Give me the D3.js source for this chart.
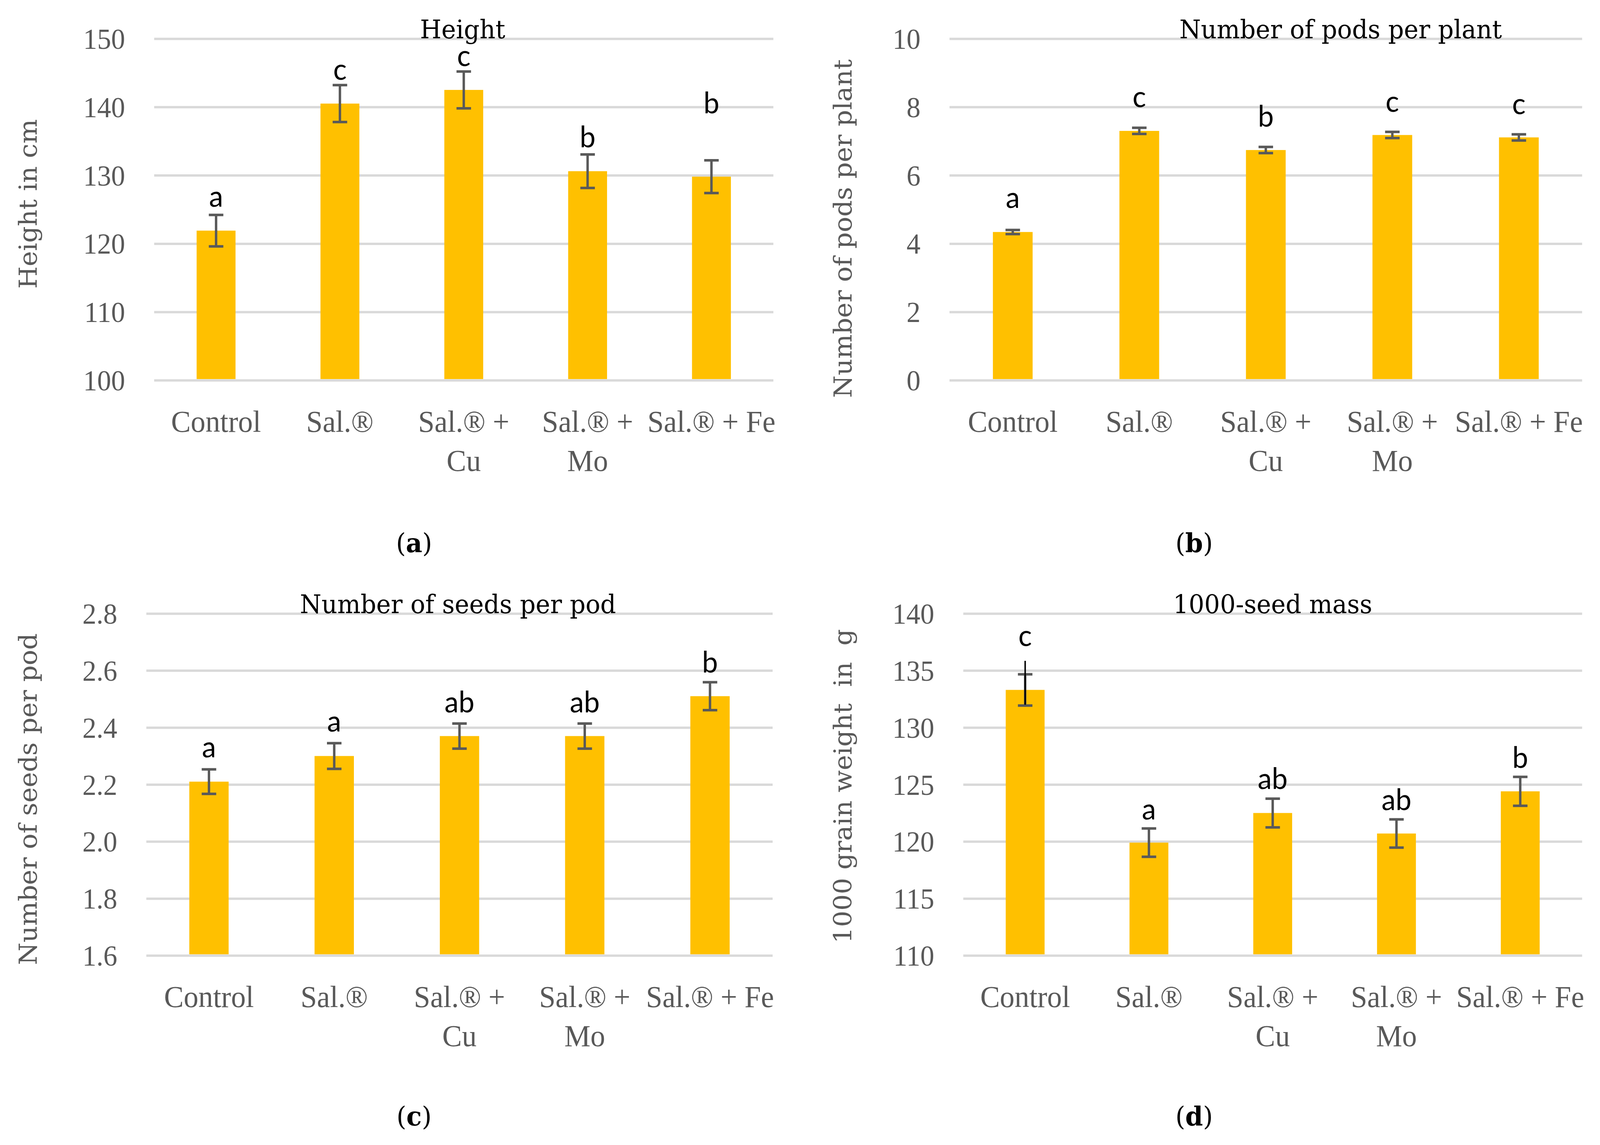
<!DOCTYPE html>
<html>

<head>
    <meta charset="utf-8">
    <script src="https://d3js.org/d3.v7.min.js"></script>
    <style>
        html, body { margin: 0; padding: 0; background: #fff; overflow: hidden; }
        svg { display: block; width: 100vw; height: 100vh; }
        text { white-space: pre; }
    </style>
</head>

<body>
    <script>
        // treatments (x axis), shared by all four panels
        const categories = ["Control", "Sal.®", "Sal.® + Cu", "Sal.® + Mo", "Sal.® + Fe"];
        const categoryLines = [["Control"], ["Sal.®"], ["Sal.® +", "Cu"], ["Sal.® +", "Mo"], ["Sal.® + Fe"]];

        // (a) height
        const heightMean = [121.9, 140.5, 142.5, 130.6, 129.8];
        const heightErr = [2.3, 2.7, 2.7, 2.45, 2.4];
        const heightLetters = ["a", "c", "c", "b", "b"];
        const heightLetterAt = [125.4, 144.0, 146.0, 134.1, 139.1];
        const heightTicks = [100, 110, 120, 130, 140, 150];

        // (b) pods per plant
        const podsMean = [4.34, 7.30, 6.74, 7.18, 7.11];
        const podsErr = [0.06, 0.09, 0.09, 0.09, 0.09];
        const podsLetters = ["a", "c", "b", "c", "c"];
        const podsLetterAt = [5.04, 8.0, 7.42, 7.86, 7.79];
        const podsTicks = [0, 2, 4, 6, 8, 10];

        // (c) seeds per pod
        const seedsMean = [2.21, 2.30, 2.37, 2.37, 2.51];
        const seedsErr = [0.043, 0.045, 0.044, 0.044, 0.049];
        const seedsLetters = ["a", "a", "ab", "ab", "b"];
        const seedsLetterAt = [2.295, 2.386, 2.453, 2.453, 2.593];
        const seedsTicks = [1.6, 1.8, 2.0, 2.2, 2.4, 2.6, 2.8];

        // (d) 1000-seed mass
        const massMean = [133.3, 119.9, 122.5, 120.7, 124.4];
        const massErr = [1.37, 1.24, 1.26, 1.24, 1.27];
        const massLetters = ["c", "a", "ab", "ab", "b"];
        const massLetterAt = [137.15, 121.94, 124.6, 122.75, 126.47];
        const massTicks = [110, 115, 120, 125, 130, 135, 140];
        // stray black whisker drawn over the Control error bar
        const massStrayHi = [135.85, null, null, null, null];
        const massStrayLo = [132.0, null, null, null, null];

        const width = 4297, height = 2930;
        const serif = "'DejaVu Serif', serif";
        const narrowSerif = "'Liberation Serif', 'Times New Roman', serif";
        const grey = "#595959";

        const panels = [
            { title: "Height", tag: "a", yLabel: "Height in cm",
              mean: heightMean, err: heightErr, letters: heightLetters, letterAt: heightLetterAt,
              ticks: heightTicks, fmt: d3.format("d"),
              x0: 414, x1: 2077, top: 99, bottom: 973, titleShift: -3,
              labelX: 99, labelY: 522, tagX: 1112, tagY: 1413 },
            { title: "Number of pods per plant", tag: "b", yLabel: "Number of pods per plant",
              mean: podsMean, err: podsErr, letters: podsLetters, letterAt: podsLetterAt,
              ticks: podsTicks, fmt: d3.format("d"),
              x0: 2550, x1: 4249, top: 99, bottom: 973, titleShift: 201,
              labelX: 2287, labelY: 585, tagX: 3207, tagY: 1413 },
            { title: "Number of seeds per pod", tag: "c", yLabel: "Number of seeds per pod",
              mean: seedsMean, err: seedsErr, letters: seedsLetters, letterAt: seedsLetterAt,
              ticks: seedsTicks, fmt: d3.format(".1f"),
              x0: 393, x1: 2075, top: 1570, bottom: 2445, titleShift: -4,
              labelX: 99, labelY: 2045, tagX: 1112, tagY: 2880 },
            { title: "1000-seed mass", tag: "d", yLabel: "1000 grain weight  in  g",
              mean: massMean, err: massErr, letters: massLetters, letterAt: massLetterAt,
              ticks: massTicks, fmt: d3.format("d"),
              strayHi: massStrayHi, strayLo: massStrayLo,
              x0: 2587, x1: 4249, top: 1570, bottom: 2445, titleShift: 0,
              labelX: 2287, labelY: 2012, tagX: 3207, tagY: 2880 }
        ];

        // the drawing is laid out on a 4297x2930 grid and stretched to the window
        const svg = d3.select("body").append("svg")
            .attr("viewBox", [0, 0, width, height])
            .attr("preserveAspectRatio", "none");

        panels.forEach(p => {
            const w = p.x1 - p.x0;

            const x = d3.scaleBand()
                .domain(categories)
                .range([p.x0, p.x1])
                .paddingInner(0.686)
                .paddingOuter(0.343);

            const y = d3.scaleLinear()
                .domain(d3.extent(p.ticks))
                .range([p.bottom, p.top]);

            // gridlines + tick labels
            const yAxis = svg.append("g")
                .attr("transform", `translate(${p.x0},0)`)
                .call(d3.axisLeft(y).tickValues(p.ticks).tickFormat(p.fmt)
                    .tickSize(-w).tickPadding(78));
            yAxis.select(".domain").remove();
            yAxis.selectAll(".tick line")
                .attr("stroke", "#d9d9d9")
                .attr("stroke-width", 6);
            yAxis.selectAll(".tick text")
                .attr("fill", grey)
                .attr("font-family", narrowSerif)
                .attr("font-size", 75)
                .attr("dy", "0.34em");

            const rows = categories.map((c, i) => ({
                cat: c, mean: p.mean[i], err: p.err[i],
                letter: p.letters[i], letterAt: p.letterAt[i],
                hi: p.strayHi ? p.strayHi[i] : null,
                lo: p.strayLo ? p.strayLo[i] : null
            }));

            // bars
            svg.append("g").selectAll("rect")
                .data(rows)
                .join("rect")
                .attr("x", d => x(d.cat))
                .attr("width", x.bandwidth())
                .attr("y", d => y(d.mean))
                .attr("height", d => y(y.domain()[0]) - y(d.mean) - 3)
                .attr("fill", "#ffc000");

            // error bars
            const cap = 39;
            const eb = svg.append("g")
                .attr("stroke", grey)
                .attr("stroke-width", 6.5)
                .selectAll("g")
                .data(rows)
                .join("g")
                .attr("transform", d => `translate(${x(d.cat) + x.bandwidth() / 2},0)`);
            eb.append("line")
                .attr("y1", d => y(d.mean + d.err))
                .attr("y2", d => y(d.mean - d.err));
            eb.append("line")
                .attr("x1", -cap / 2).attr("x2", cap / 2)
                .attr("y1", d => y(d.mean + d.err)).attr("y2", d => y(d.mean + d.err));
            eb.append("line")
                .attr("x1", -cap / 2).attr("x2", cap / 2)
                .attr("y1", d => y(d.mean - d.err)).attr("y2", d => y(d.mean - d.err));

            svg.append("g").selectAll("line")
                .data(rows.filter(d => d.hi != null))
                .join("line")
                .attr("x1", d => x(d.cat) + x.bandwidth() / 2)
                .attr("x2", d => x(d.cat) + x.bandwidth() / 2)
                .attr("y1", d => y(d.hi))
                .attr("y2", d => y(d.lo))
                .attr("stroke", "#000")
                .attr("stroke-width", 4);

            // significance letters
            svg.append("g").selectAll("text")
                .data(rows)
                .join("text")
                .attr("x", d => x(d.cat) + x.bandwidth() / 2)
                .attr("y", d => y(d.letterAt))
                .attr("text-anchor", "middle")
                .attr("font-family", "Lato, 'Open Sans', sans-serif")
                .attr("font-size", 76)
                .attr("fill", "#000")
                .text(d => d.letter);

            // category labels
            const xl = svg.append("g").selectAll("text")
                .data(categories)
                .join("text")
                .attr("x", d => x(d) + x.bandwidth() / 2)
                .attr("y", p.bottom + 132)
                .attr("text-anchor", "middle")
                .attr("font-family", narrowSerif)
                .attr("font-size", 79)
                .attr("fill", grey);
            xl.selectAll("tspan")
                .data((d, i) => categoryLines[i])
                .join("tspan")
                .attr("x", function () { return d3.select(this.parentNode).attr("x"); })
                .attr("dy", (d, j) => j === 0 ? 0 : 100)
                .text(d => d);

            // title
            svg.append("text")
                .attr("x", (p.x0 + p.x1) / 2 + p.titleShift)
                .attr("y", p.top - 1)
                .attr("text-anchor", "middle")
                .attr("font-family", serif)
                .attr("font-size", 66)
                .attr("fill", "#000")
                .text(p.title);

            // y axis title
            svg.append("text")
                .attr("transform", `translate(${p.labelX},${p.labelY}) rotate(-90)`)
                .attr("text-anchor", "middle")
                .attr("font-family", serif)
                .attr("font-size", 66)
                .attr("fill", grey)
                .text(p.yLabel);

            // panel tag
            const tag = svg.append("text")
                .attr("x", p.tagX)
                .attr("y", p.tagY)
                .attr("text-anchor", "middle")
                .attr("font-family", serif)
                .attr("font-size", 68)
                .attr("fill", "#000");
            tag.append("tspan").text("(");
            tag.append("tspan").attr("font-weight", "bold").text(p.tag);
            tag.append("tspan").text(")");
        });
    </script>
</body>

</html>
